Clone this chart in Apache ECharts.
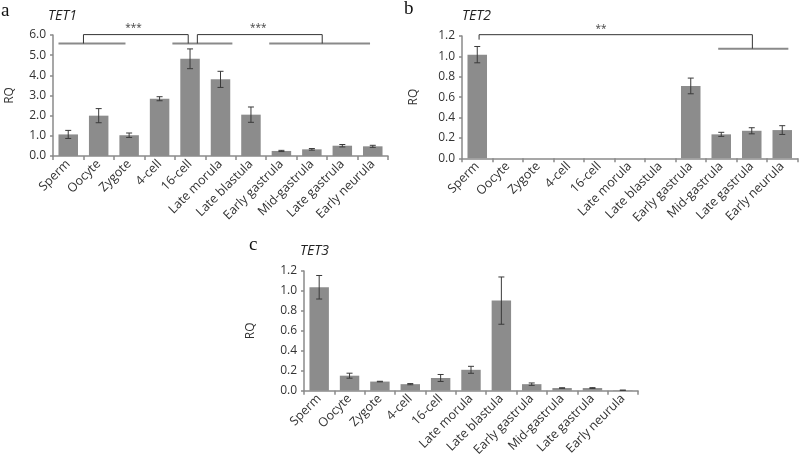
<!DOCTYPE html>
<html><head><meta charset="utf-8">
<script src="https://cdn.jsdelivr.net/npm/echarts@6/dist/echarts.min.js"></script>
<style>html,body{margin:0;padding:0;background:#fff}#c{width:800px;height:459px}</style>
</head><body><div id="c"></div>
<script>
const categories = ['Sperm','Oocyte','Zygote','4-cell','16-cell','Late morula','Late blastula','Early gastrula','Mid-gastrula','Late gastrula','Early neurula'];

const tet1    = [1.07, 2.00, 1.03, 2.84, 4.82, 3.80, 2.05, 0.25, 0.33, 0.51, 0.48];
const tet1Err = [0.20, 0.35, 0.11, 0.10, 0.49, 0.40, 0.38, 0.03, 0.04, 0.06, 0.05];
const tet2    = [1.017, 0, 0, 0, 0, 0, 0, 0.71, 0.235, 0.27, 0.277];
const tet2Err = [0.08, 0, 0, 0, 0, 0, 0, 0.077, 0.02, 0.03, 0.043];
const tet3    = [1.037, 0.15, 0.091, 0.065, 0.127, 0.209, 0.903, 0.065, 0.026, 0.026, 0.004];
const tet3Err = [0.118, 0.025, 0.003, 0.006, 0.035, 0.035, 0.237, 0.012, 0.003, 0.004, 0.001];

const yTicksA = [0, 6, 1];      // min, max, interval
const yTicksBC = [0, 1.2, 0.2];

// significance annotations, x in category units (bar i centred at i+0.5)
const tet1GroupLines = [[0.18, 2.38, 5.58], [3.92, 5.89, 5.58], [7.10, 10.41, 5.58]];
const tet1Brackets   = [[1.00, 4.44, 5.58, 5.58, 6.02], [4.74, 8.84, 5.58, 5.58, 6.02]];
const tet1Stars      = [[2.64, 6.02, '***'], [6.74, 6.02, '***']];
const tet2GroupLines = [[8.40, 10.70, 1.076]];
const tet2Brackets   = [[0.56, 9.52, 1.164, 1.076, 1.213]];
const tet2Stars      = [[4.56, 1.213, '**']];

const panels = [
  {gene: 'TET1', letter: 'a', data: tet1, err: tet1Err, ticks: yTicksA,
   grid: {left: 53, top: 35, width: 335, height: 121}, nameGap: 37,
   groups: tet1GroupLines, brackets: tet1Brackets, stars: tet1Stars},
  {gene: 'TET2', letter: 'b', data: tet2, err: tet2Err, ticks: yTicksBC,
   grid: {left: 462, top: 36, width: 335.5, height: 122.3}, nameGap: 42,
   groups: tet2GroupLines, brackets: tet2Brackets, stars: tet2Stars},
  {gene: 'TET3', letter: 'c', data: tet3, err: tet3Err, ticks: yTicksBC,
   grid: {left: 304, top: 271, width: 334, height: 122.3}, nameGap: 47,
   groups: [], brackets: [], stars: []}
];

const FONT = 'Open Sans';
const grid = [], xAxis = [], yAxis = [], series = [];
panels.forEach((p, k) => {
  grid.push(Object.assign({containLabel: false}, p.grid));
  xAxis.push({
    type: 'category', gridIndex: k, data: categories,
    axisLine: {lineStyle: {color: '#8a8a8a', width: 1.5}},
    axisTick: {show: true, length: 4, lineStyle: {color: '#8a8a8a', width: 1.5}},
    axisLabel: {rotate: 45, fontSize: 12.5, color: '#333', fontFamily: FONT, margin: 6, interval: 0},
    splitLine: {show: false}
  });
  xAxis.push({type: 'value', gridIndex: k, min: 0, max: 11, show: false});
  yAxis.push({
    type: 'value', gridIndex: k, min: p.ticks[0], max: p.ticks[1], interval: p.ticks[2],
    name: 'RQ', nameLocation: 'middle', nameRotate: 90, nameGap: p.nameGap,
    nameTextStyle: {fontSize: 12, color: '#333', fontFamily: FONT},
    axisLine: {show: true, lineStyle: {color: '#8a8a8a', width: 1.5}},
    axisTick: {show: true, length: 3, lineStyle: {color: '#8a8a8a', width: 1.5}},
    axisLabel: {fontSize: 12, color: '#333', fontFamily: FONT, margin: 7, formatter: v => v.toFixed(1)},
    splitLine: {show: false}
  });
  series.push({
    type: 'bar', xAxisIndex: 2 * k, yAxisIndex: k, data: p.data,
    barCategoryGap: '36%', itemStyle: {color: '#8c8c8c'}, silent: true, animation: false
  });
  series.push({
    type: 'custom', xAxisIndex: 2 * k, yAxisIndex: k, animation: false, silent: true, z: 5,
    data: p.data.map((v, i) => [i, v, p.err[i]]),
    renderItem: (params, api) => {
      const i = api.value(0), v = api.value(1), e = api.value(2);
      if (e <= 0) return null;
      const hi = api.coord([i, v + e]), lo = api.coord([i, v - e]);
      const w = 3, st = {stroke: '#3a3a3a', lineWidth: 1};
      return {type: 'group', children: [
        {type: 'line', shape: {x1: hi[0], y1: hi[1], x2: lo[0], y2: lo[1]}, style: st},
        {type: 'line', shape: {x1: hi[0] - w, y1: hi[1], x2: hi[0] + w, y2: hi[1]}, style: st},
        {type: 'line', shape: {x1: lo[0] - w, y1: lo[1], x2: lo[0] + w, y2: lo[1]}, style: st}
      ]};
    }
  });
  if (p.groups.length) series.push({
    type: 'custom', xAxisIndex: 2 * k + 1, yAxisIndex: k, animation: false, silent: true,
    data: p.groups,
    renderItem: (params, api) => {
      const a = api.coord([api.value(0), api.value(2)]), b = api.coord([api.value(1), api.value(2)]);
      return {type: 'line', shape: {x1: a[0], y1: a[1], x2: b[0], y2: b[1]}, style: {stroke: '#8a8a8a', lineWidth: 2}};
    }
  });
  if (p.brackets.length) series.push({
    type: 'custom', xAxisIndex: 2 * k + 1, yAxisIndex: k, animation: false, silent: true,
    data: p.brackets,
    renderItem: (params, api) => {
      const x1 = api.value(0), x2 = api.value(1), y1 = api.value(2), y2 = api.value(3), yt = api.value(4);
      const pts = [api.coord([x1, y1]), api.coord([x1, yt]), api.coord([x2, yt]), api.coord([x2, y2])];
      return {type: 'polyline', shape: {points: pts}, style: {stroke: '#333', lineWidth: 1, fill: null}};
    }
  });
  if (p.stars.length) series.push({
    type: 'custom', xAxisIndex: 2 * k + 1, yAxisIndex: k, animation: false, silent: true,
    data: p.stars,
    renderItem: (params, api) => {
      const pt = api.coord([api.value(0), api.value(1)]);
      return {type: 'text', x: pt[0], y: pt[1] - 1,
        style: {text: p.stars[params.dataIndex][2], fill: '#444', fontSize: 10, fontFamily: FONT,
                align: 'center', verticalAlign: 'bottom'}};
    }
  });
});

const graphic = [
  {type: 'text', left: 1, top: 2, style: {text: 'a', fontSize: 19, fontFamily: 'Liberation Serif', fill: '#111'}},
  {type: 'text', left: 404, top: 0, style: {text: 'b', fontSize: 19, fontFamily: 'Liberation Serif', fill: '#111'}},
  {type: 'text', left: 249, top: 236, style: {text: 'c', fontSize: 19, fontFamily: 'Liberation Serif', fill: '#111'}},
  {type: 'text', left: 48, top: 9, style: {text: 'TET1', fontSize: 14, fontStyle: 'italic', fontFamily: FONT, fill: '#222'}},
  {type: 'text', left: 462, top: 9, style: {text: 'TET2', fontSize: 14, fontStyle: 'italic', fontFamily: FONT, fill: '#222'}},
  {type: 'text', left: 300, top: 244, style: {text: 'TET3', fontSize: 14, fontStyle: 'italic', fontFamily: FONT, fill: '#222'}}
];

const chart = echarts.init(document.getElementById('c'), null, {renderer: 'canvas'});
chart.setOption({animation: false, backgroundColor: '#fff', grid, xAxis, yAxis, series, graphic});
</script></body></html>
